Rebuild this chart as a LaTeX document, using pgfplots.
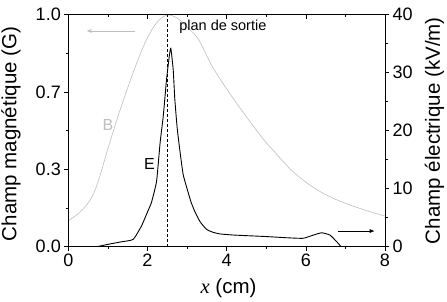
\documentclass[border=0pt]{standalone}
\usepackage{fontspec}
\setmainfont{Liberation Sans}
\newfontfamily\timesf{Liberation Serif}
\usepackage{pgfplots}
\pgfplotsset{compat=1.18}
\usetikzlibrary{arrows.meta}
\definecolor{bgray}{RGB}{190,190,190}

\pgfplotstableread{
x y
0.00 0.112
0.30 0.150
0.59 0.212
0.78 0.295
0.97 0.405
1.15 0.505
1.31 0.590
1.60 0.733
1.89 0.860
2.10 0.932
2.30 0.978
2.48 0.998
2.62 0.996
2.78 0.982
2.95 0.955
3.24 0.905
3.41 0.855
3.66 0.770
4.08 0.660
4.50 0.560
4.92 0.465
5.35 0.382
5.60 0.335
6.10 0.266
6.60 0.216
7.11 0.180
7.62 0.151
8.00 0.132
}\Bdata

\pgfplotstableread{
x y
0.72 0.00
1.05 0.47
1.35 0.85
1.64 1.27
1.85 3.60
2.02 6.30
2.10 7.60
2.23 11.3
2.32 18.0
2.40 22.6
2.48 28.7
2.55 32.8
2.59 34.2
2.65 30.5
2.69 25.5
2.75 20.5
2.82 16.5
2.90 12.5
3.00 10.0
3.10 7.7
3.20 6.0
3.33 4.3
3.49 3.0
3.65 2.5
3.83 2.2
4.20 2.0
5.00 1.75
5.50 1.55
5.93 1.45
6.19 2.00
6.40 2.40
6.61 2.00
6.78 0.86
6.89 0.00
}\Edata

\pgfplotsset{
  common/.style={
    scale only axis, width=316.7pt, height=232pt,
    xmin=0, xmax=8,
    axis line style={line width=0.7pt, black},
    tick style={line width=0.6pt, black},
    major tick length=4pt, minor tick length=2.5pt,
    ticklabel style={font=\fontsize{18}{20}\selectfont},
    /pgf/number format/assume math mode=true,
    label style={font=\fontsize{20.5}{24}\selectfont},
  }
}

\begin{document}
\begin{tikzpicture}
\begin{axis}[common,
  ymin=0, ymax=1,
  xtick={0,2,4,6,8}, minor xtick={1,3,5,7}, xtick pos=bottom,
  ytick={0,0.333333,0.666667,1}, yticklabels={0.0,0.3,0.7,1.0},
  minor ytick={0.166667,0.5,0.833333}, ytick pos=left,
  tick align=outside,
  xlabel={{\timesf\itshape x} (cm)},
  xlabel style={at={(axis description cs:0.506,-0.18)}, anchor=center},
  ylabel={Champ magnétique (G)},
  ylabel style={at={(axis description cs:-0.181,0.486)}, anchor=center},
]
\coordinate (LL) at (rel axis cs:0,0);
\coordinate (UR) at (rel axis cs:1,1);
\addplot[bgray, line width=0.6pt, smooth, tension=0.6] table {\Bdata};
\draw[black, line width=0.7pt, dash pattern=on 3pt off 2pt] (axis cs:2.5,0) -- (axis cs:2.5,1);
\draw[bgray, line width=0.7pt, -{Stealth[length=5pt,width=4pt]}] (axis cs:1.68,0.93) -- (axis cs:0.47,0.93);
\node[anchor=base west, font=\fontsize{14.5}{16}\selectfont, inner sep=0pt] at (axis cs:2.8,0.932) {plan de sortie};
\node[text=bgray, font=\fontsize{16}{18}\selectfont, inner sep=0pt] at (axis cs:1.0,0.524) {B};
\node[text=black, font=\fontsize{16}{18}\selectfont, inner sep=0pt] at (axis cs:2.05,0.356) {E};
\end{axis}
\begin{axis}[common,
  ymin=0, ymax=40,
  hide x axis,
  ytick={0,10,20,30,40}, minor ytick={5,15,25,35},
  ytick pos=right, yticklabel pos=right,
  tick align=outside,
  ylabel={Champ électrique (kV/m)},
  ylabel style={at={(axis description cs:1.156,0.5)}, anchor=center, rotate=0},
]
\addplot[black, line width=0.9pt, smooth, tension=0.3] table {\Edata};
\draw[black, line width=0.7pt, -{Latex[length=5pt,width=4pt]}] (axis cs:6.81,2.7) -- (axis cs:7.74,2.7);
\end{axis}
\begin{axis}[common,
  ymin=0, ymax=1,
  hide y axis,
  xtick={0,2,4,6,8}, minor xtick={1,3,5,7}, xtick pos=top,
  xticklabels={}, tick align=inside,
]
\end{axis}
\pgfresetboundingbox
\path ([shift={(-68.3pt,-55.3pt)}]LL) rectangle ([shift={(62pt,14.7pt)}]UR);
\end{tikzpicture}
\end{document}
